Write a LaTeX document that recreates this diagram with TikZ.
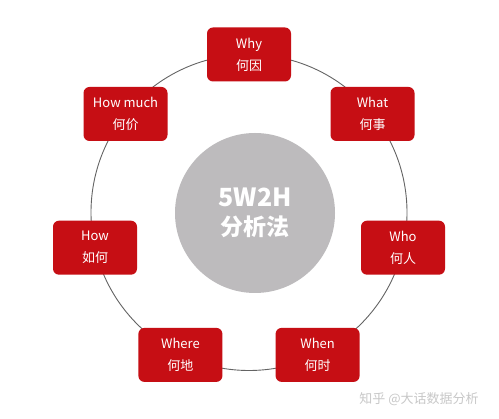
\documentclass[tikz,border=0pt]{standalone}
\usepackage{fontspec}
\setmainfont{Noto Sans CJK SC}
\definecolor{boxred}{RGB}{198,14,20}
\definecolor{hubgray}{RGB}{189,187,189}
\definecolor{ringgray}{RGB}{100,100,100}
\definecolor{markgray}{RGB}{200,200,200}
\tikzset{
  ringline/.style={draw=ringgray, line width=0.9pt},
  qbox/.style={rectangle, rounded corners=6pt, fill=boxred, minimum width=84pt, minimum height=54pt,
    inner sep=0pt, text=white, align=center, font=\fontsize{13}{22}\selectfont},
  hub/.style={circle, fill=hubgray, minimum size=160pt, inner sep=0pt, text=white, align=center,
    font=\bfseries\fontsize{25}{29}\selectfont},
  wmark/.style={text=markgray, font=\fontsize{13}{15}\selectfont, inner sep=0pt}
}
\begin{document}
\begin{tikzpicture}[x=1pt,y=-1pt]
\fill[white] (0,0) rectangle (499,419);
\useasboundingbox (0,0) rectangle (499,419);
\coordinate (O) at (249,212.5);
\draw[ringline] (O) circle[radius=158];
\node[hub] (hub) at (255,213) {5W2H\\\fontsize{23}{29}\selectfont 分析法};
\node[qbox] (why) at (249,54.5) {Why\\何因};
\node[qbox] (what) at (372.5,114) {What\\何事};
\node[qbox] (who) at (403,247.7) {Who\\何人};
\node[qbox] (when) at (317.6,354.9) {When\\何时};
\node[qbox] (where) at (180.4,354.9) {Where\\何地};
\node[qbox] (how) at (95,247.7) {How\\如何};
\node[qbox] (howmuch) at (125.5,114) {How much\\何价};
\node[wmark] (wm) at (419,399) {知乎 @大话数据分析};
\end{tikzpicture}
\end{document}
